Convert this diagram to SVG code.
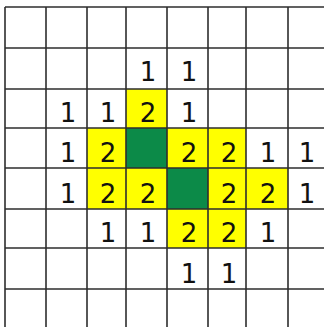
<svg xmlns="http://www.w3.org/2000/svg" width="324" height="327" viewBox="0 0 324 327">
<style>
.y{fill:#ffff00}
.g{fill:#0c8a48}
.l{stroke:#2e2e2e;stroke-width:1.6;fill:none}
.t{font-family:"DejaVu Sans",sans-serif;font-size:26px;fill:#111;text-anchor:middle}
</style>
<rect x="0" y="0" width="324" height="327" fill="#ffffff"/>
<g id="cells">
<rect class="y" x="126" y="89" width="41" height="39"/>
<rect class="y" x="87" y="128" width="39" height="40"/>
<rect class="g" x="126" y="128" width="41" height="40"/>
<rect class="y" x="167" y="128" width="41" height="40"/>
<rect class="y" x="208" y="128" width="38" height="40"/>
<rect class="y" x="87" y="168" width="39" height="41"/>
<rect class="y" x="126" y="168" width="41" height="41"/>
<rect class="g" x="167" y="168" width="41" height="41"/>
<rect class="y" x="208" y="168" width="38" height="41"/>
<rect class="y" x="246" y="168" width="42" height="41"/>
<rect class="y" x="167" y="209" width="41" height="39"/>
<rect class="y" x="208" y="209" width="38" height="39"/>
</g>
<g id="grid" class="l">
<path d="M5 7V327M46 7V327M87 7V327M126 7V327M167 7V327M208 7V327M246 7V327M288 7V327"/>
<path d="M5 7H324M5 48H324M5 89H324M5 128H324M5 168H324M5 209H324M5 248H324M5 289H324"/>
</g>
<g id="labels" class="t">
<text x="148" y="81">1</text>
<text x="189" y="81">1</text>
<text x="68" y="122">1</text>
<text x="108" y="122">1</text>
<text x="148" y="122">2</text>
<text x="189" y="122">1</text>
<text x="68" y="162">1</text>
<text x="108" y="162">2</text>
<text x="189" y="162">2</text>
<text x="229" y="162">2</text>
<text x="268" y="162">1</text>
<text x="307" y="162">1</text>
<text x="68" y="203">1</text>
<text x="108" y="203">2</text>
<text x="148" y="203">2</text>
<text x="229" y="203">2</text>
<text x="268" y="203">2</text>
<text x="307" y="203">1</text>
<text x="108" y="242">1</text>
<text x="148" y="242">1</text>
<text x="189" y="242">2</text>
<text x="229" y="242">2</text>
<text x="268" y="242">1</text>
<text x="189" y="283">1</text>
<text x="229" y="283">1</text>
</g>
</svg>
